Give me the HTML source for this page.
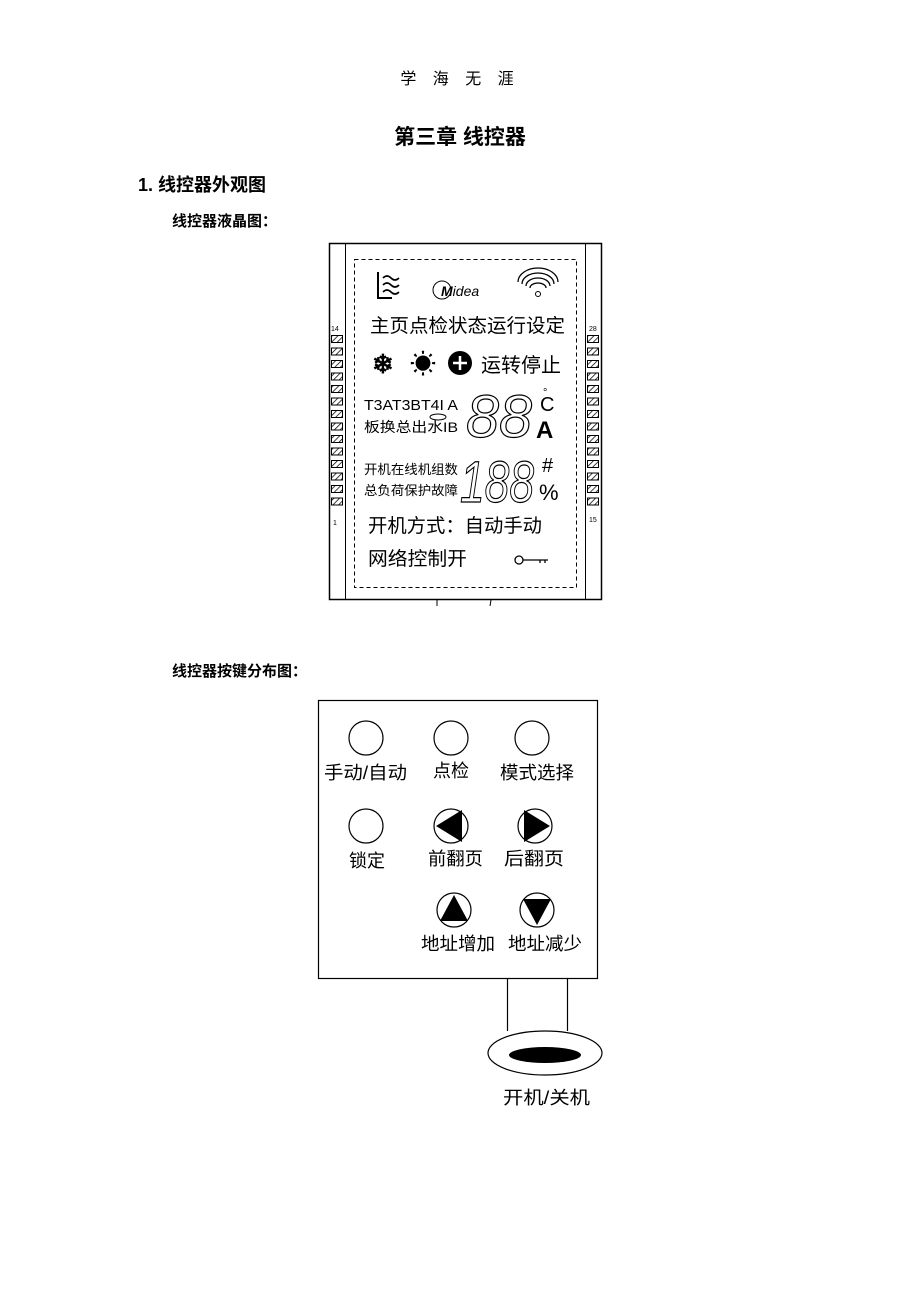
<!DOCTYPE html>
<html><head><meta charset="utf-8"><style>
html,body{margin:0;padding:0;background:#fff}
svg{display:block}
text{font-family:"Liberation Sans","Noto Sans CJK SC",sans-serif;fill:#000}
.b{font-weight:bold}
.o{fill:none;stroke:#000;stroke-width:1.2}
</style></head><body>
<svg width="920" height="1302" viewBox="0 0 920 1302" xmlns="http://www.w3.org/2000/svg">
<defs>
<pattern id="h" width="4" height="4" patternUnits="userSpaceOnUse" patternTransform="rotate(45)">
<rect width="4" height="4" fill="#fff"/><line x1="0" y1="0" x2="0" y2="4" stroke="#000" stroke-width="1.5"/>
</pattern>
</defs>
<text x="460" y="84" font-size="16" text-anchor="middle" letter-spacing="6">学 海 无 涯</text>
<text x="460" y="144" font-size="21" class="b" text-anchor="middle">第三章 线控器</text>
<text x="138" y="191" font-size="18" class="b" font-family="Liberation Serif">1. <tspan font-family="Noto Sans CJK SC">线控器外观图</tspan></text>
<text x="172" y="226" font-size="15" class="b">线控器液晶图：</text>

<g stroke="#000" fill="none">
<rect x="329.5" y="243.5" width="272" height="356" stroke-width="1.5"/>
<line x1="345.5" y1="243" x2="345.5" y2="600"/>
<line x1="585.5" y1="243" x2="585.5" y2="600"/>
<rect x="354.5" y="259.5" width="222" height="328" stroke-dasharray="4,3"/>
<line x1="437" y1="600" x2="437" y2="606"/>
<line x1="491" y1="600" x2="490" y2="606"/>
</g>
<g id="pins" stroke="#000" fill="url(#h)" stroke-width="1">
<rect x="331.5" y="335.5" width="11" height="7"/><rect x="331.5" y="348" width="11" height="7"/><rect x="331.5" y="360.5" width="11" height="7"/><rect x="331.5" y="373" width="11" height="7"/><rect x="331.5" y="385.5" width="11" height="7"/><rect x="331.5" y="398" width="11" height="7"/><rect x="331.5" y="410.5" width="11" height="7"/><rect x="331.5" y="423" width="11" height="7"/><rect x="331.5" y="435.5" width="11" height="7"/><rect x="331.5" y="448" width="11" height="7"/><rect x="331.5" y="460.5" width="11" height="7"/><rect x="331.5" y="473" width="11" height="7"/><rect x="331.5" y="485.5" width="11" height="7"/><rect x="331.5" y="498" width="11" height="7"/>
</g>
<use href="#pins" x="256"/>
<text x="331" y="331" font-size="7">14</text>
<text x="333" y="525" font-size="7">1</text>
<text x="589" y="331" font-size="7">28</text>
<text x="589" y="522" font-size="7">15</text>

<g stroke="#000" fill="none" stroke-width="2">
<path d="M378 272 V298 H392"/>
<path d="M383 278 q4 -4 8 0 t8 0 M383 285 q4 -4 8 0 t8 0 M383 292 q4 -4 8 0 t8 0" stroke-width="1.6"/>
<circle cx="442" cy="290" r="9" stroke-width="1"/>
<path d="M518 282 a20 14 0 0 1 40 0 M522 284 a16 11 0 0 1 32 0 M526 286 a12 8 0 0 1 24 0 M530 288 a8 5 0 0 1 16 0" stroke-width="1.3"/>
<circle cx="538" cy="294" r="2.5" stroke-width="1"/>
</g>
<text x="441" y="296" font-size="14" font-style="italic" font-weight="bold">M<tspan font-weight="normal">idea</tspan></text>
<text x="370" y="332" font-size="19" textLength="195" lengthAdjust="spacingAndGlyphs">主页点检状态运行设定</text>
<text x="372" y="373" font-size="26" font-weight="bold">❄</text>
<text x="410" y="373" font-size="26" font-weight="bold">☀</text>
<circle cx="460" cy="363" r="12" fill="#000"/>
<path d="M453 363 h14 M460 356 v14" stroke="#fff" stroke-width="2.5"/>
<text x="481" y="372" font-size="20" textLength="80" lengthAdjust="spacingAndGlyphs">运转停止</text>
<text x="364" y="410" font-size="15" textLength="94" lengthAdjust="spacingAndGlyphs">T3AT3BT4I A</text>
<ellipse cx="438" cy="417" rx="8" ry="3" fill="none" stroke="#000"/>
<text x="364" y="432" font-size="14" textLength="94" lengthAdjust="spacingAndGlyphs">板换总出水IB</text>
<text x="466" y="437" font-size="60" font-style="italic" class="o" textLength="66" lengthAdjust="spacingAndGlyphs">88</text>
<text x="540" y="411" font-size="20">C</text>
<text x="543" y="396" font-size="11">°</text>
<text x="536" y="438" font-size="24" class="b">A</text>
<text x="364" y="474" font-size="13" textLength="94" lengthAdjust="spacingAndGlyphs">开机在线机组数</text>
<text x="364" y="495" font-size="13" textLength="94" lengthAdjust="spacingAndGlyphs">总负荷保护故障</text>
<text x="460" y="502" font-size="58" font-style="italic" class="o" textLength="74" lengthAdjust="spacingAndGlyphs">188</text>
<text x="542" y="472" font-size="20">#</text>
<text x="539" y="500" font-size="22">%</text>
<text x="368" y="532" font-size="19" textLength="174" lengthAdjust="spacingAndGlyphs">开机方式：自动手动</text>
<text x="368" y="565" font-size="19" textLength="99" lengthAdjust="spacingAndGlyphs">网络控制开</text>
<g stroke="#000" fill="none" stroke-width="1.3"><circle cx="519" cy="560" r="4"/><path d="M523 560 H548 M540 560 v3 M545 560 v3"/></g>

<text x="172" y="676" font-size="15" class="b">线控器按键分布图：</text>

<g stroke="#000" fill="none" stroke-width="1.2">
<rect x="318.5" y="700.5" width="279" height="278"/>
<circle cx="366" cy="738" r="17"/><circle cx="451" cy="738" r="17"/><circle cx="532" cy="738" r="17"/>
<circle cx="366" cy="826" r="17"/><circle cx="451" cy="826" r="17"/><circle cx="535" cy="826" r="17"/>
<circle cx="454" cy="910" r="17"/><circle cx="537" cy="910" r="17"/>
<line x1="507.5" y1="979" x2="507.5" y2="1031"/><line x1="567.5" y1="979" x2="567.5" y2="1031"/>
<ellipse cx="545" cy="1053" rx="57" ry="22"/>
</g>
<g fill="#000">
<polygon points="436,826 462,810 462,842"/>
<polygon points="550,826 524,810 524,842"/>
<polygon points="454,895 440,921 468,921"/>
<polygon points="537,925 523,899 551,899"/>
<ellipse cx="545" cy="1055" rx="36" ry="8"/>
</g>
<text x="324" y="779" font-size="18" textLength="83" lengthAdjust="spacingAndGlyphs">手动/自动</text>
<text x="433" y="777" font-size="18">点检</text>
<text x="500" y="779" font-size="18" textLength="74" lengthAdjust="spacingAndGlyphs">模式选择</text>
<text x="349" y="867" font-size="18">锁定</text>
<text x="428" y="865" font-size="18" textLength="55" lengthAdjust="spacingAndGlyphs">前翻页</text>
<text x="504" y="865" font-size="18" textLength="60" lengthAdjust="spacingAndGlyphs">后翻页</text>
<text x="421" y="950" font-size="18" textLength="74" lengthAdjust="spacingAndGlyphs">地址增加</text>
<text x="508" y="950" font-size="18" textLength="74" lengthAdjust="spacingAndGlyphs">地址减少</text>
<text x="503" y="1104" font-size="18" textLength="87" lengthAdjust="spacingAndGlyphs">开机/关机</text>
</svg>
</body></html>
